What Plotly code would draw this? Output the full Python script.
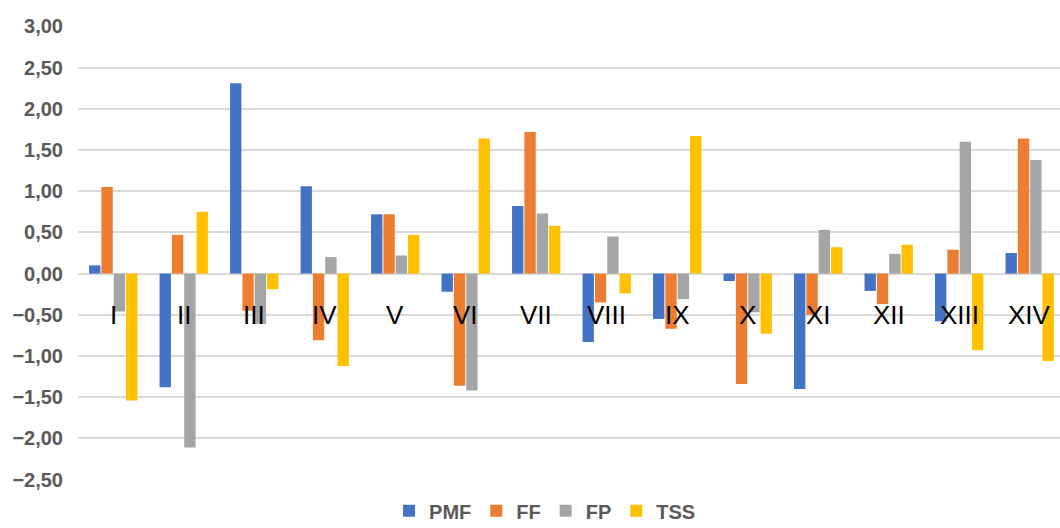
import plotly.graph_objects as go

# Categories and series values
categories = ["I", "II", "III", "IV", "V", "VI", "VII", "VIII", "IX", "X", "XI", "XII", "XIII", "XIV"]
pmf = [0.10, -1.38, 2.31, 1.06, 0.72, -0.22, 0.82, -0.83, -0.55, -0.09, -1.40, -0.21, -0.58, 0.25]
ff = [1.05, 0.47, -0.45, -0.81, 0.72, -1.36, 1.72, -0.35, -0.67, -1.34, -0.50, -0.37, 0.29, 1.64]
fp = [-0.46, -2.11, -0.61, 0.20, 0.22, -1.42, 0.73, 0.45, -0.31, -0.47, 0.53, 0.24, 1.60, 1.38]
tss = [-1.54, 0.75, -0.19, -1.12, 0.47, 1.64, 0.58, -0.24, 1.67, -0.73, 0.32, 0.35, -0.93, -1.06]

series = [
    ("PMF", pmf, "#4472C4"),
    ("FF", ff, "#ED7D31"),
    ("FP", fp, "#A5A5A5"),
    ("TSS", tss, "#FFC000"),
]

y_ticks = [-2.5, -2.0, -1.5, -1.0, -0.5, 0.0, 0.5, 1.0, 1.5, 2.0, 2.5, 3.0]

fig = go.Figure()
for name, vals, color in series:
    fig.add_trace(go.Bar(
        x=categories, y=vals, name=name,
        marker=dict(color=color, line=dict(width=0)),
    ))

# category labels sit across the bars at the -0,5 level
for cat in categories:
    fig.add_annotation(
        x=cat, y=-0.5, xref="x", yref="y", text=cat, showarrow=False,
        xanchor="center", yanchor="middle",
        font=dict(family="Liberation Sans, Arial", size=26, color="#000000"),
    )

fig.update_layout(
    width=1060, height=528,
    margin=dict(l=78, r=0, t=26, b=48, autoexpand=False),
    paper_bgcolor="white", plot_bgcolor="white",
    separators=", ",
    barmode="group", bargap=0.30, bargroupgap=0.08,
    showlegend=True,
    legend=dict(
        orientation="h", x=0.4756, xanchor="center", y=-0.068, yanchor="middle",
        font=dict(family="Liberation Sans, Arial", size=20, color="#595959", weight="bold"),
        itemwidth=30, traceorder="normal", tracegroupgap=0,
    ),
    xaxis=dict(
        range=[-0.5, 13.43], showticklabels=False, showgrid=False,
        zeroline=False, showline=False, ticks="",
    ),
    yaxis=dict(
        range=[-2.505, 3.005], tickvals=y_ticks, tickformat=".2f",
        showgrid=True, gridcolor="#D9D9D9", gridwidth=2,
        zeroline=True, zerolinecolor="#D9D9D9", zerolinewidth=2,
        showline=False, ticks="", ticklabelstandoff=14,
        tickfont=dict(family="Liberation Sans, Arial", size=20, color="#595959", weight="bold"),
    ),
)

fig.write_html("out.html")
